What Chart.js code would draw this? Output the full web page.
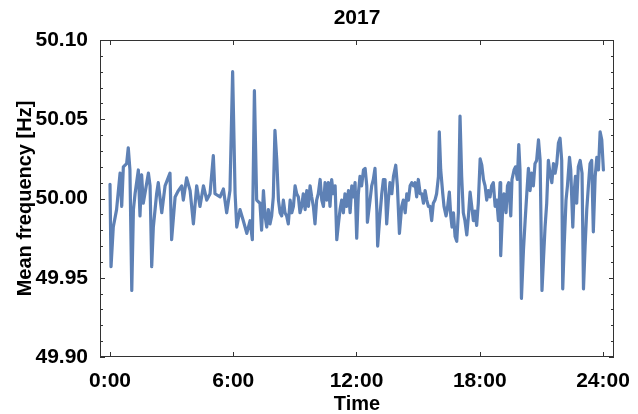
<!DOCTYPE html>
<html>
<head>
<meta charset="utf-8">
<script src="https://cdn.jsdelivr.net/npm/chart.js@4"></script>
<style>
  html, body { margin: 0; padding: 0; background: #fff; }
  #wrap { width: 638px; height: 414px; }
</style>
</head>
<body>
<div id="wrap"><canvas id="myChart" width="638" height="414"></canvas></div>
<script>
const chartTitle = '2017';
const xTitle = 'Time';
const yTitle = 'Mean frequency [Hz]';

// x ticks (hours) and their labels
const xTicks = [0, 6, 12, 18, 24];
const xTickLabels = ['0:00', '6:00', '12:00', '18:00', '24:00'];
// y ticks
const yTicks = [49.90, 49.95, 50.00, 50.05, 50.10];
const yMinorTicks = [49.91, 49.92, 49.93, 49.94, 49.96, 49.97, 49.98, 49.99,
  50.01, 50.02, 50.03, 50.04, 50.06, 50.07, 50.08, 50.09];

// time of day in hours
const hours = [
  0.00, 0.05, 0.16, 0.32, 0.49, 0.57, 0.65, 0.81, 0.89, 0.97,
  1.06, 1.14, 1.22, 1.38, 1.46, 1.54, 1.62, 1.87, 1.95, 2.03,
  2.11, 2.27, 2.35, 2.52, 2.68, 2.92, 3.00, 3.17, 3.33, 3.49,
  3.57, 3.73, 3.90, 4.06, 4.22, 4.38, 4.55, 4.71, 4.87, 5.03,
  5.11, 5.36, 5.52, 5.68, 5.84, 5.97, 6.09, 6.17, 6.33, 6.49,
  6.66, 6.82, 6.93, 7.03, 7.14,
  7.30, 7.38, 7.47, 7.55, 7.63, 7.71, 7.79, 7.87, 7.95, 8.03,
  8.12, 8.20, 8.28, 8.36, 8.44, 8.52, 8.60, 8.68, 8.77, 8.85,
  8.93, 9.01, 9.09, 9.17, 9.25, 9.33, 9.41, 9.50, 9.58, 9.66,
  9.74, 9.82, 9.90, 9.98, 10.06, 10.14, 10.23, 10.31, 10.39, 10.47,
  10.55, 10.63, 10.71, 10.79, 10.87, 10.96, 11.04, 11.12, 11.20, 11.28,
  11.36, 11.44, 11.52, 11.61, 11.69, 11.77, 11.85, 11.93, 12.01, 12.09,
  12.17, 12.25, 12.34, 12.42, 12.50, 12.53, 12.66, 12.74, 12.82, 12.90,
  12.99, 13.03, 13.12, 13.23, 13.31, 13.39, 13.47, 13.55, 13.63, 13.72,
  13.80, 13.91, 13.99, 14.09, 14.20, 14.28, 14.37, 14.45, 14.53, 14.61,
  14.69, 14.77, 14.85, 14.93, 15.01, 15.10, 15.18, 15.26, 15.34, 15.42,
  15.50,
  15.58, 15.66, 15.74, 15.82, 15.90, 15.99, 16.03, 16.10, 16.20, 16.26,
  16.36, 16.42, 16.52, 16.59, 16.65, 16.72, 16.80, 16.88, 16.96, 17.04,
  17.12, 17.20, 17.28, 17.37, 17.45, 17.53, 17.61, 17.69, 17.77, 17.85,
  17.93, 18.02, 18.10, 18.18, 18.26, 18.34, 18.42, 18.50, 18.58, 18.66,
  18.75, 18.83, 18.91, 18.99, 19.02, 19.12, 19.18, 19.28, 19.35, 19.41,
  19.51, 19.57, 19.67, 19.74, 19.83, 19.90, 19.96, 20.03, 20.13, 20.21,
  20.29, 20.37, 20.45, 20.53, 20.61, 20.69, 20.77, 20.86, 20.94, 21.03,
  21.10, 21.18, 21.26, 21.34, 21.42, 21.51, 21.59, 21.67, 21.75, 21.83,
  21.91, 21.99, 22.04, 22.11, 22.20, 22.27, 22.37, 22.43, 22.53, 22.59,
  22.66, 22.72, 22.80, 22.89, 22.98, 23.05, 23.13, 23.21, 23.29, 23.37,
  23.45, 23.53, 23.62, 23.70, 23.78, 23.86, 23.94, 24.02
];

// mean frequency in Hz
const freq = [
  50.009, 49.957, 49.982, 49.993, 50.016, 49.995, 50.020, 50.022, 50.032, 50.018,
  49.942, 49.993, 50.003, 50.018, 49.989, 50.015, 49.997, 50.016, 50.008, 49.957,
  49.982, 50.003, 50.010, 49.991, 50.008, 50.016, 49.974, 50.001, 50.005, 50.008,
  49.999, 50.013, 50.005, 49.984, 50.008, 49.995, 50.008, 49.999, 50.003, 50.027,
  50.003, 50.001, 50.006, 49.991, 50.005, 50.080, 50.003, 49.982, 49.993, 49.986,
  49.978, 49.986, 49.974, 50.068, 49.999,
  49.997, 49.980, 50.005, 49.989, 49.982, 49.993, 49.984, 49.989, 50.001, 50.043,
  50.024, 49.999, 49.991, 49.989, 49.999, 49.991, 49.989, 49.984, 49.999, 49.991,
  49.995, 50.008, 50.003, 50.001, 49.991, 49.995, 50.003, 49.993, 50.005, 49.995,
  50.008, 50.001, 49.995, 49.984, 49.999, 50.003, 50.012, 49.999, 49.995, 50.010,
  49.999, 50.010, 49.995, 50.012, 50.003, 50.008, 49.974, 49.984, 49.993, 49.999,
  49.991, 50.003, 49.995, 50.005, 49.991, 50.008, 50.001, 50.010, 49.975, 50.003,
  50.014, 50.008, 50.018, 50.019, 50.008, 49.985, 49.999, 50.008, 50.012, 50.019,
  49.993, 49.970, 49.986, 50.003, 50.012, 50.012, 49.984, 49.999, 50.010, 50.003,
  50.014, 50.021, 50.008, 49.978, 49.995, 49.999, 49.991, 50.003, 49.999, 50.008,
  50.010, 50.008, 50.010, 50.001, 50.012, 50.003, 50.003, 49.997, 50.005, 49.999,
  49.995,
  49.995, 49.986, 49.997, 49.999, 50.003, 50.014, 50.042, 50.018, 50.003, 49.995,
  49.989, 49.993, 50.004, 49.989, 49.982, 49.991, 49.976, 49.973, 49.991, 50.052,
  50.014, 49.991, 49.986, 49.977, 49.989, 50.004, 49.995, 49.986, 49.992, 49.983,
  49.997, 50.025, 50.021, 50.012, 50.008, 49.999, 50.005, 50.001, 50.008, 50.010,
  49.995, 49.999, 49.986, 50.010, 49.964, 49.995, 50.003, 49.991, 50.008, 50.010,
  49.989, 50.012, 50.018, 50.020, 50.012, 50.034, 50.018, 49.937, 49.968, 49.986,
  50.003, 50.019, 50.005, 50.016, 50.008, 50.022, 50.024, 50.037, 50.024, 49.942,
  49.961, 49.982, 49.997, 50.024, 50.016, 50.010, 50.022, 50.016, 50.022, 50.035,
  50.038, 50.024, 49.943, 49.970, 49.999, 50.008, 50.026, 50.018, 49.982, 50.003,
  50.014, 49.997, 50.020, 50.024, 50.016, 49.943, 49.970, 49.993, 50.008, 50.022,
  50.024, 49.979, 50.014, 50.026, 50.018, 50.042, 50.037, 50.018
];

const fontFamily = '"Liberation Sans", Arial, sans-serif';
Chart.defaults.font.family = fontFamily;
Chart.defaults.color = '#000';

// frame box with inward ticks, like the original plot
const framePlugin = {
  id: 'frame',
  afterDraw(chart) {
    const ctx = chart.ctx;
    const a = chart.chartArea;
    const xs = chart.scales.x;
    const ys = chart.scales.y;
    ctx.save();
    ctx.strokeStyle = '#333';
    ctx.lineWidth = 1;
    ctx.strokeRect(a.left + 0.5, a.top + 0.5, a.right - a.left - 1, a.bottom - a.top - 1);
    ctx.beginPath();
    xTicks.forEach(t => {
      const px = Math.round(xs.getPixelForValue(t)) + 0.5;
      ctx.moveTo(px, a.bottom);
      ctx.lineTo(px, a.bottom - 5);
      ctx.moveTo(px, a.top);
      ctx.lineTo(px, a.top + 5);
    });
    yTicks.forEach(v => {
      const py = Math.round(ys.getPixelForValue(v)) + 0.5;
      ctx.moveTo(a.left, py);
      ctx.lineTo(a.left + 5, py);
      ctx.moveTo(a.right, py);
      ctx.lineTo(a.right - 5, py);
    });
    yMinorTicks.forEach(v => {
      const py = Math.round(ys.getPixelForValue(v)) + 0.5;
      ctx.moveTo(a.left, py);
      ctx.lineTo(a.left + 3, py);
      ctx.moveTo(a.right, py);
      ctx.lineTo(a.right - 3, py);
    });
    ctx.stroke();

    // plot title centred over the plot area
    ctx.font = 'bold 21px ' + fontFamily;
    ctx.fillStyle = '#000';
    ctx.textAlign = 'center';
    ctx.textBaseline = 'middle';
    ctx.fillText(chartTitle, (a.left + a.right) / 2, 18);
    ctx.restore();
  }
};

const ctx = document.getElementById('myChart').getContext('2d');
new Chart(ctx, {
  type: 'line',
  data: {
    datasets: [{
      data: hours.map((h, i) => ({ x: h, y: freq[i] })),
      borderColor: '#5e81b5',
      borderWidth: 3.2,
      borderJoinStyle: 'round',
      borderCapStyle: 'round',
      pointRadius: 0,
      tension: 0,
      fill: false
    }]
  },
  options: {
    responsive: false,
    animation: false,
    layout: { padding: { top: 40, right: 24, left: 0, bottom: 0 } },
    plugins: {
      legend: { display: false },
      tooltip: { enabled: false },
      title: { display: false }
    },
    scales: {
      x: {
        type: 'linear',
        min: -0.487,
        max: 24.536,
        grid: { display: false },
        border: { display: false },
        afterBuildTicks: scale => { scale.ticks = xTicks.map(v => ({ value: v })); },
        afterFit: scale => { scale.height = 57; },
        ticks: {
          autoSkip: false,
          maxRotation: 0,
          padding: 4,
          font: { size: 21, weight: 'bold' },
          callback: v => xTickLabels[xTicks.indexOf(v)]
        },
        title: {
          display: true,
          text: xTitle,
          font: { size: 20, weight: 'bold', lineHeight: 1 },
          padding: { top: 0, bottom: 0 }
        }
      },
      y: {
        min: 49.90,
        max: 50.10,
        grid: { display: false },
        border: { display: false },
        afterBuildTicks: scale => { scale.ticks = yTicks.map(v => ({ value: v })); },
        afterFit: scale => { scale.width = 100; },
        ticks: {
          autoSkip: false,
          padding: 4,
          font: { size: 21, weight: 'bold' },
          callback: v => v.toFixed(2)
        },
        title: {
          display: true,
          text: yTitle,
          font: { size: 20, weight: 'bold', lineHeight: 1 },
          padding: { top: 15, bottom: 0 }
        }
      }
    }
  },
  plugins: [framePlugin]
});
</script>
</body>
</html>
